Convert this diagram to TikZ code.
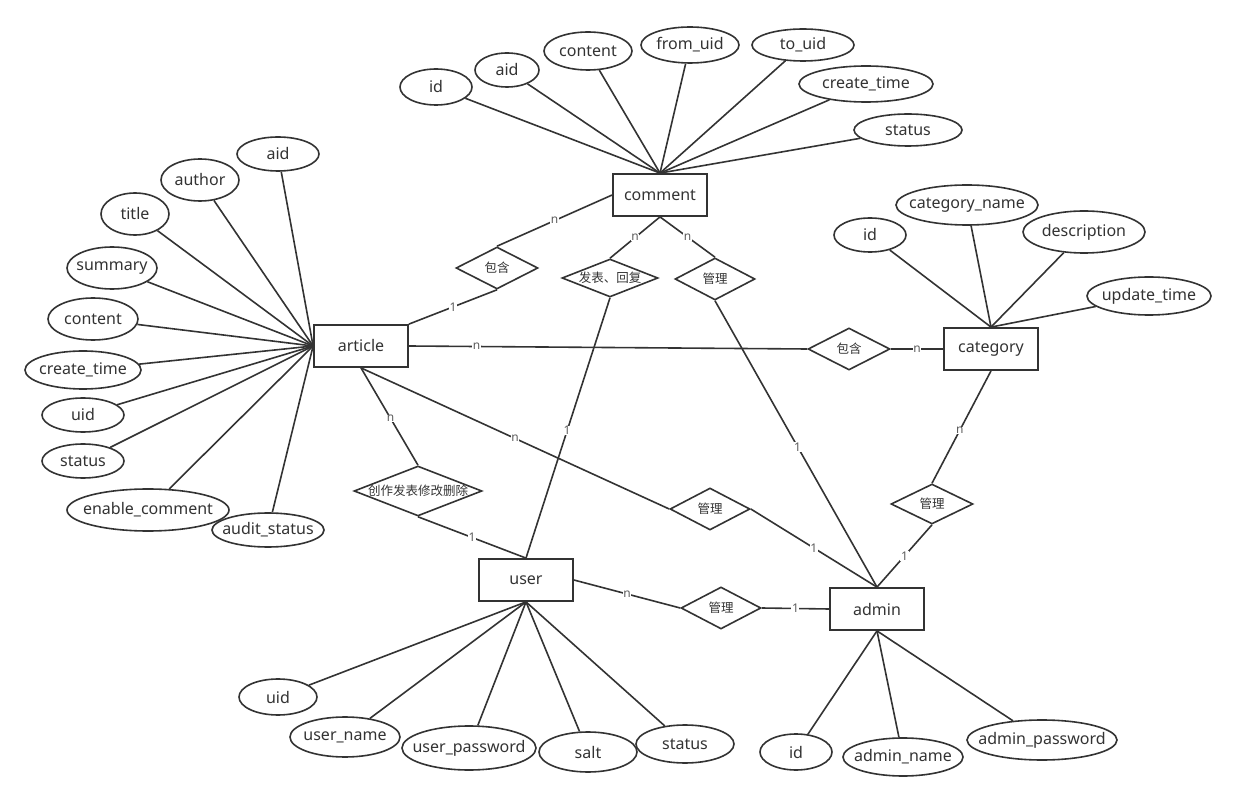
\documentclass[tikz,border=0pt]{standalone}
\usepackage{fontspec}
\setmainfont{Noto Sans}
\newfontfamily\cjk{Noto Sans CJK SC}
\usetikzlibrary{shapes.geometric}
\definecolor{ink}{HTML}{333333}
\tikzset{
  every node/.style={text=ink},
  every label/.style={text=ink, inner sep=0pt, font=\fontsize{16}{18}\selectfont},
  ent/.style={draw=ink, line width=1.8pt, rectangle, minimum width=94pt, minimum height=42pt, inner sep=0pt, font=\fontsize{16}{18}\selectfont},
  attr/.style={draw=ink, line width=1.6pt, ellipse, inner sep=0pt, fill=white, label={center:#1}},
  rel/.style={draw=ink, line width=1.6pt, diamond, inner sep=0pt, minimum width=82pt, minimum height=42pt},
  rtxt/.style={font=\cjk\fontsize{12.5}{14}\selectfont, inner sep=0pt},
  conn/.style={draw=ink, line width=1.6pt},
  lbl/.style={fill=white, inner sep=0.6pt, text=ink!80, font=\fontsize{12}{13}\selectfont}
}
\begin{document}
\begin{tikzpicture}[x=1pt,y=-1pt]
\useasboundingbox (0,0) rectangle (1235,799);
% entities
\node[ent] (comment) at (660,195) {comment};
\node[ent] (article) at (361,346) {article};
\node[ent] (category) at (991,349) {category};
\node[ent] (user) at (526,580) {user};
\node[ent] (admin) at (877,609) {admin};
% comment attributes
\node[attr={id}, minimum width=72pt, minimum height=36pt] (c1) at (436,87) {};
\node[attr={aid}, minimum width=64pt, minimum height=34pt] (c2) at (507,70) {};
\node[attr={content}, minimum width=88pt, minimum height=38pt] (c3) at (588,51) {};
\node[attr={from\_uid}, minimum width=98pt, minimum height=36pt] (c4) at (690,45) {};
\node[attr={to\_uid}, minimum width=102pt, minimum height=32pt] (c5) at (803,45) {};
\node[attr={create\_time}, minimum width=134pt, minimum height=36pt] (c6) at (866,84) {};
\node[attr={status}, minimum width=108pt, minimum height=32pt] (c7) at (908,130) {};
\foreach \n in {c1,c2,c3,c4,c5,c6,c7} \draw[conn] (\n) -- (comment.north);
% article attributes
\node[attr={aid}, minimum width=82pt, minimum height=34pt] (a1) at (278,154) {};
\node[attr={author}, minimum width=78pt, minimum height=42pt] (a2) at (200,180) {};
\node[attr={title}, minimum width=68pt, minimum height=42pt] (a3) at (135,214) {};
\node[attr={summary}, minimum width=90pt, minimum height=42pt] (a4) at (112,268) {};
\node[attr={content}, minimum width=90pt, minimum height=42pt] (a5) at (93,319) {};
\node[attr={create\_time}, minimum width=116pt, minimum height=38pt] (a6) at (83,370) {};
\node[attr={uid}, minimum width=82pt, minimum height=34pt] (a7) at (83,415) {};
\node[attr={status}, minimum width=82pt, minimum height=34pt] (a8) at (83,461) {};
\node[attr={enable\_comment}, minimum width=162pt, minimum height=42pt] (a9) at (148,510) {};
\node[attr={audit\_status}, minimum width=112pt, minimum height=34pt] (a10) at (268,530) {};
\foreach \n in {a1,a2,a3,a4,a5,a6,a7,a8,a9,a10} \draw[conn] (\n) -- (article.west);
% category attributes
\node[attr={id}, minimum width=72pt, minimum height=34pt] (g1) at (870,235) {};
\node[attr={category\_name}, minimum width=142pt, minimum height=40pt] (g2) at (967,205) {};
\node[attr={description}, minimum width=122pt, minimum height=42pt] (g3) at (1084,232) {};
\node[attr={update\_time}, minimum width=124pt, minimum height=38pt] (g4) at (1149,296) {};
\foreach \n in {g1,g2,g3,g4} \draw[conn] (\n) -- (category.north);
% user attributes
\node[attr={uid}, minimum width=78pt, minimum height=36pt] (u1) at (278,697) {};
\node[attr={user\_name}, minimum width=110pt, minimum height=40pt] (u2) at (345,737) {};
\node[attr={user\_password}, minimum width=134pt, minimum height=44pt] (u3) at (469,748) {};
\node[attr={salt}, minimum width=98pt, minimum height=40pt] (u4) at (588,752) {};
\node[attr={status}, minimum width=98pt, minimum height=38pt] (u5) at (685,744) {};
\foreach \n in {u1,u2,u3,u4,u5} \draw[conn] (\n) -- (user.south);
% admin attributes
\node[attr={id}, minimum width=72pt, minimum height=36pt] (m1) at (796,752) {};
\node[attr={admin\_name}, minimum width=120pt, minimum height=38pt] (m2) at (903,757) {};
\node[attr={admin\_password}, minimum width=150pt, minimum height=40pt] (m3) at (1042,740) {};
\foreach \n in {m1,m2,m3} \draw[conn] (\n) -- (admin.south);
% relationships
\node[rel] (r1) at (497,268) {};
\node[rtxt] at (r1) {包含};
\node[rel, minimum width=96pt, minimum height=38pt] (r2) at (610,278) {};
\node[rtxt] at (r2) {发表、回复};
\node[rel, minimum width=80pt] (r3) at (715,279) {};
\node[rtxt] at (r3) {管理};
\node[rel] (r4) at (849,349) {};
\node[rtxt] at (r4) {包含};
\node[rel, minimum width=128pt, minimum height=50pt] (r5) at (418,491) {};
\node[rtxt] at (r5) {创作发表修改删除};
\node[rel, minimum width=80pt] (r6) at (710,509) {};
\node[rtxt] at (r6) {管理};
\node[rel, minimum height=40pt] (r7) at (932,504) {};
\node[rtxt] at (r7) {管理};
\node[rel, minimum width=80pt] (r8) at (721,608) {};
\node[rtxt] at (r8) {管理};
% connectors
\draw[conn] (comment.west) -- node[lbl, pos=0.5] {n} (r1.north);
\draw[conn] (r1.south) -- node[lbl, pos=0.5] {1} (article.north east);
\draw[conn] (comment.south) -- node[lbl, pos=0.5] {n} (r2.north);
\draw[conn] (r2.south) -- node[lbl, pos=0.51] {1} (user.north);
\draw[conn] (comment.south) -- node[lbl, pos=0.5] {n} (r3.north);
\draw[conn] (r3.south) -- node[lbl, pos=0.51] {1} (admin.north);
\draw[conn] (article.east) -- node[lbl, pos=0.17] {n} (r4.west);
\draw[conn] (r4.east) -- node[lbl, pos=0.5] {n} (category.west);
\draw[conn] (article.south) -- node[lbl, pos=0.52] {n} (r5.north);
\draw[conn] (r5.south) -- node[lbl, pos=0.5] {1} (user.north);
\draw[conn] (article.south) -- node[lbl, pos=0.5] {n} (r6.west);
\draw[conn] (r6.east) -- node[lbl, pos=0.5] {1} (admin.north);
\draw[conn] (category.south) -- node[lbl, pos=0.53] {n} (r7.north);
\draw[conn] (r7.south) -- node[lbl, pos=0.5] {1} (admin.north);
\draw[conn] (user.east) -- node[lbl, pos=0.5] {n} (r8.west);
\draw[conn] (r8.east) -- node[lbl, pos=0.5] {1} (admin.west);
\end{tikzpicture}
\end{document}
